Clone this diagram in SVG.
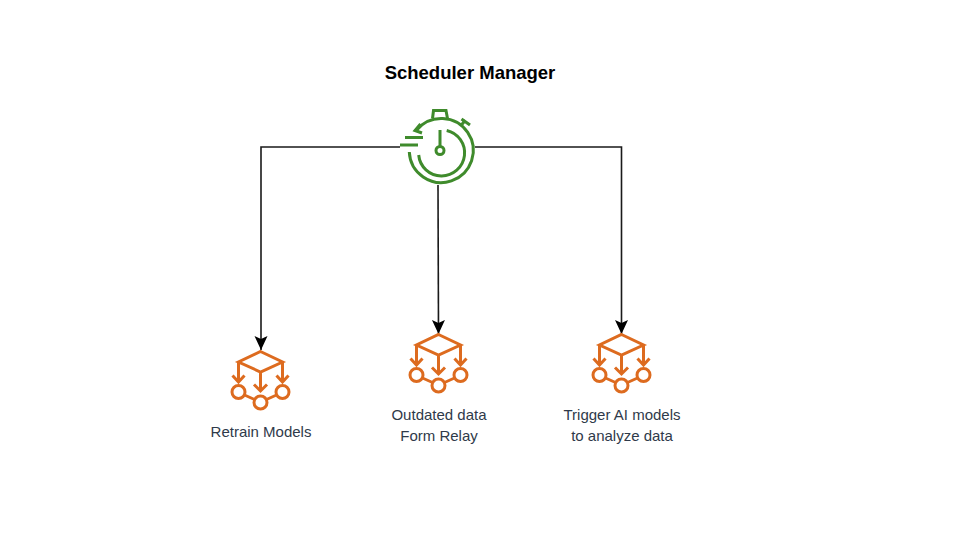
<svg xmlns="http://www.w3.org/2000/svg" width="960" height="540" viewBox="0 0 960 540">
<style>
.lbl{font-family:"Liberation Sans",Arial,sans-serif;font-size:15px;fill:#2f3a4a;text-anchor:middle}
.title{font-family:"Liberation Sans",Arial,sans-serif;font-size:18.500px;font-weight:bold;fill:#000;text-anchor:middle}
.conn{fill:none;stroke:#1a1a1a;stroke-width:1.6}
.ml{fill:none;stroke:#dd6b1f;stroke-width:3}
.clk{fill:none;stroke:#3f8b2c;stroke-width:3}
</style>
<defs>
<marker id="ah" markerUnits="userSpaceOnUse" markerWidth="15" markerHeight="15" refX="14" refY="7" orient="auto"><path d="M0 0.500L14 7L0 13.500L3 7Z" fill="#000"/></marker>
<g id="ml">
<path class="ml" d="M0 0L22 10.500L0 20.500L-22 10.500ZM-22 10.500V30M22 10.500V30M0 20.500V39"/>
<path class="ml" d="M-28 24L-22 30.500L-16 24M16 24L22 30.500L28 24M-6.500 33L0 39.500L6.500 33"/>
<circle class="ml" cx="-22" cy="40.500" r="6.500"/><circle class="ml" cx="0" cy="51" r="6.500"/><circle class="ml" cx="22" cy="40.500" r="6.500"/>
<path class="ml" d="M-16 43.500L-6 48M16 43.500L6 48"/>
</g>
</defs>
<text class="title" x="470" y="78.500">Scheduler Manager</text>
<g id="connectors">
<path class="conn" d="M400 147H261V350" marker-end="url(#ah)"/>
<path class="conn" d="M438 185L438.500 334" marker-end="url(#ah)"/>
<path class="conn" d="M475 147H621.500V334" marker-end="url(#ah)"/>
</g>
<g id="scheduler">
<path class="clk" d="M409.300 152A32 32 0 1 0 416.700 130"/>
<path class="clk" d="M446.700 130.500A23 23 0 1 1 418.700 155"/>
<path class="clk" d="M432.500 118.500L433.500 110.500H446L447.500 118.500"/>
<path class="clk" d="M420.500 124L415 130.500L422 133"/>
<path class="clk" d="M461 125.500L465.500 120M461.500 119L470 125"/>
<path class="clk" d="M440 130V147M405 137.500H423M400 145H418"/>
<circle class="clk" cx="440" cy="150.500" r="4"/>
</g>
<g id="retrain"><use href="#ml" x="260.500" y="351.500"/><text class="lbl" x="261" y="436.500">Retrain Models</text></g>
<g id="relay"><use href="#ml" x="438.500" y="334.500"/><text class="lbl" x="439" y="419.500">Outdated data</text><text class="lbl" x="439" y="441">Form Relay</text></g>
<g id="trigger"><use href="#ml" x="621.500" y="334.500"/><text class="lbl" x="622" y="419.500">Trigger AI models</text><text class="lbl" x="622" y="441">to analyze data</text></g>
</svg>
